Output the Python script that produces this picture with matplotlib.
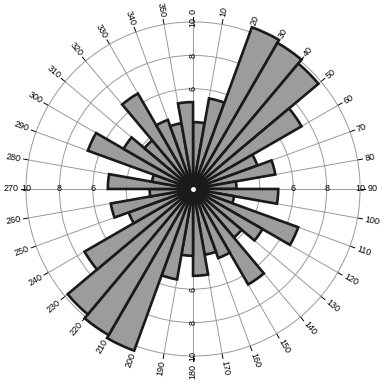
import numpy as np
import matplotlib
matplotlib.use('Agg')
import matplotlib.pyplot as plt

# rose diagram, 10 degree bins (0-10, 10-20, ... 350-360)
bin_start = list(range(0, 360, 10))
counts = [4.0, 5.5, 10.3, 10.1, 9.8, 7.5, 4.1, 5.0, 2.6,
          5.1, 2.5, 6.7, 4.8, 3.8, 6.6, 4.4, 4.0, 5.2,
          4.0, 5.5, 10.3, 10.1, 9.8, 7.5, 4.1, 5.0, 2.6,
          5.1, 2.5, 6.7, 4.8, 3.8, 6.6, 4.4, 4.0, 5.2]
ring_vals = [2, 4, 6, 8, 10]
ring_labels = ['6', '8', '10']

plt.rcParams['font.family'] = ['Liberation Sans', 'DejaVu Sans']

fig = plt.figure(figsize=(3.84, 3.84), dpi=100)
ax = fig.add_axes([0.0677, 0.0729, 0.870, 0.870], projection='polar')
ax.set_theta_zero_location('N')
ax.set_theta_direction(-1)
ax.set_ylim(0, 10)
ax.set_axisbelow(True)

theta = np.radians(np.array(bin_start) + 5)
bars = ax.bar(theta, counts, width=np.radians(10), bottom=0,
              color='#9c9c9c', edgecolor='#1a1a1a', linewidth=1.9,
              align='center', zorder=3)
for b in bars:
    b.set_clip_on(False)

# grid
ax.set_rgrids(ring_vals[:-1], labels=[])
ax.set_thetagrids(bin_start, labels=[])
ax.grid(True, color='#9a9a9a', linewidth=0.7)
ax.spines['polar'].set_color('#9a9a9a')
ax.spines['polar'].set_linewidth(0.7)

# centre dot
ax.plot(0, 0, 'o', color='white', ms=2.5, zorder=5)

# angle labels + little ticks outside the outer ring
for a in bin_start:
    t = np.radians(a)
    ax.plot([t, t], [10, 10.3], color='black', lw=0.7, clip_on=False)
    if a < 180:
        rot, ha = 90 - a, 'left'
    else:
        rot, ha = 270 - a, 'right'
    ax.text(t, 10.45, str(a), rotation=rot, rotation_mode='anchor',
            ha=ha, va='center', fontsize=6.5)

# radial labels on the four main axes
for a in [0, 90, 180, 270]:
    t = np.radians(a)
    rot = 90 if a in (0, 180) else 0
    for v, s in zip(ring_vals[2:], ring_labels):
        ax.text(t, v, s, rotation=rot, ha='center', va='center',
                fontsize=6.5, zorder=6)

fig.savefig('out.png', dpi=100)
